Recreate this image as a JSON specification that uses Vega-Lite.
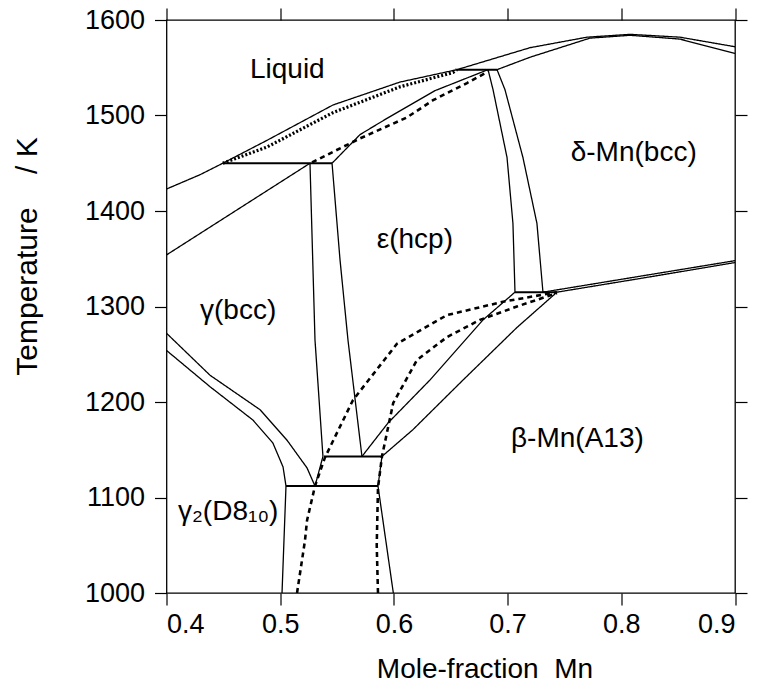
{
  "$schema": "https://vega.github.io/schema/vega-lite/v6.json",
  "width": 568.5,
  "height": 573,
  "autosize": {"type": "none"},
  "padding": {"left": 166.5, "top": 20, "right": 22, "bottom": 99},
  "background": "white",
  "config": {
    "font": "Liberation Sans",
    "view": {"stroke": "black", "strokeWidth": 1.3},
    "axis": {"grid": false, "domainColor": "black", "tickColor": "black", "labelColor": "black", "titleColor": "black", "tickSize": 12, "tickWidth": 1.2, "domainWidth": 1.3, "labelFontSize": 27, "titleFontSize": 28, "titleFontWeight": "normal", "labelFont": "Liberation Sans", "titleFont": "Liberation Sans"}
  },
  "datasets": {
    "lines": [
      {"s":1,"k":"solid","o":0,"x":0.4,"t":1423},{"s":1,"k":"solid","o":1,"x":0.4295,"t":1438},{"s":1,"k":"solid","o":2,"x":0.4495,"t":1450},{"s":1,"k":"solid","o":3,"x":0.4884,"t":1474},{"s":1,"k":"solid","o":4,"x":0.5464,"t":1511},{"s":1,"k":"solid","o":5,"x":0.6053,"t":1535},{"s":1,"k":"solid","o":6,"x":0.6555,"t":1548},{"s":1,"k":"solid","o":7,"x":0.7197,"t":1571},{"s":1,"k":"solid","o":8,"x":0.7698,"t":1582},{"s":1,"k":"solid","o":9,"x":0.8077,"t":1585},{"s":1,"k":"solid","o":10,"x":0.8516,"t":1582},{"s":1,"k":"solid","o":11,"x":0.9,"t":1572},
      {"s":2,"k":"solid","o":0,"x":0.4,"t":1354},{"s":2,"k":"solid","o":1,"x":0.5262,"t":1450},
      {"s":3,"k":"thick","o":0,"x":0.45,"t":1450},{"s":3,"k":"thick","o":1,"x":0.5456,"t":1450},
      {"s":4,"k":"solid","o":0,"x":0.5262,"t":1450},{"s":4,"k":"solid","o":1,"x":0.5306,"t":1265},{"s":4,"k":"solid","o":2,"x":0.5376,"t":1143},{"s":4,"k":"solid","o":3,"x":0.5306,"t":1112},
      {"s":5,"k":"solid","o":0,"x":0.5456,"t":1450},{"s":5,"k":"solid","o":1,"x":0.5526,"t":1349},{"s":5,"k":"solid","o":2,"x":0.5596,"t":1265},{"s":5,"k":"solid","o":3,"x":0.5719,"t":1143},
      {"s":6,"k":"thick","o":0,"x":0.5385,"t":1143},{"s":6,"k":"thick","o":1,"x":0.5895,"t":1143},
      {"s":7,"k":"solid","o":0,"x":0.5719,"t":1143},{"s":7,"k":"solid","o":1,"x":0.5948,"t":1178},{"s":7,"k":"solid","o":2,"x":0.6317,"t":1223},{"s":7,"k":"solid","o":3,"x":0.6784,"t":1286},{"s":7,"k":"solid","o":4,"x":0.7065,"t":1315},
      {"s":8,"k":"solid","o":0,"x":0.5895,"t":1143},{"s":8,"k":"solid","o":1,"x":0.6167,"t":1171},{"s":8,"k":"solid","o":2,"x":0.6608,"t":1223},{"s":8,"k":"solid","o":3,"x":0.7082,"t":1278},{"s":8,"k":"solid","o":4,"x":0.7434,"t":1315},
      {"s":9,"k":"thick","o":0,"x":0.7065,"t":1315},{"s":9,"k":"thick","o":1,"x":0.7434,"t":1315},
      {"s":10,"k":"solid","o":0,"x":0.7065,"t":1315},{"s":10,"k":"solid","o":1,"x":0.7047,"t":1387},{"s":10,"k":"solid","o":2,"x":0.6995,"t":1456},{"s":10,"k":"solid","o":3,"x":0.6872,"t":1527},{"s":10,"k":"solid","o":4,"x":0.6828,"t":1548},
      {"s":11,"k":"solid","o":0,"x":0.7311,"t":1315},{"s":11,"k":"solid","o":1,"x":0.7258,"t":1387},{"s":11,"k":"solid","o":2,"x":0.7135,"t":1456},{"s":11,"k":"solid","o":3,"x":0.6977,"t":1527},{"s":11,"k":"solid","o":4,"x":0.6907,"t":1548},
      {"s":12,"k":"thick","o":0,"x":0.6555,"t":1548},{"s":12,"k":"thick","o":1,"x":0.6907,"t":1548},
      {"s":13,"k":"solid","o":0,"x":0.5456,"t":1450},{"s":13,"k":"solid","o":1,"x":0.5702,"t":1480},{"s":13,"k":"solid","o":2,"x":0.5939,"t":1497},{"s":13,"k":"solid","o":3,"x":0.6361,"t":1526},{"s":13,"k":"solid","o":4,"x":0.6828,"t":1548},
      {"s":14,"k":"solid","o":0,"x":0.6907,"t":1548},{"s":14,"k":"solid","o":1,"x":0.7197,"t":1561},{"s":14,"k":"solid","o":2,"x":0.7724,"t":1581},{"s":14,"k":"solid","o":3,"x":0.8077,"t":1584},{"s":14,"k":"solid","o":4,"x":0.8516,"t":1580},{"s":14,"k":"solid","o":5,"x":0.9,"t":1565},
      {"s":15,"k":"dot","o":0,"x":0.4495,"t":1450},{"s":15,"k":"dot","o":1,"x":0.4884,"t":1467},{"s":15,"k":"dot","o":2,"x":0.5464,"t":1503},{"s":15,"k":"dot","o":3,"x":0.6053,"t":1530},{"s":15,"k":"dot","o":4,"x":0.6519,"t":1545},{"s":15,"k":"dot","o":5,"x":0.6555,"t":1548},
      {"s":16,"k":"dash","o":0,"x":0.528,"t":1451},{"s":16,"k":"dash","o":1,"x":0.5702,"t":1476},{"s":16,"k":"dash","o":2,"x":0.6115,"t":1498},{"s":16,"k":"dash","o":3,"x":0.6344,"t":1516},{"s":16,"k":"dash","o":4,"x":0.6643,"t":1534},{"s":16,"k":"dash","o":5,"x":0.6828,"t":1546},
      {"s":17,"k":"dash","o":0,"x":0.5148,"t":1000},{"s":17,"k":"dash","o":1,"x":0.5218,"t":1055},{"s":17,"k":"dash","o":2,"x":0.5236,"t":1076},{"s":17,"k":"dash","o":3,"x":0.5306,"t":1112},{"s":17,"k":"dash","o":4,"x":0.5394,"t":1142},{"s":17,"k":"dash","o":5,"x":0.564,"t":1202},{"s":17,"k":"dash","o":6,"x":0.6027,"t":1261},{"s":17,"k":"dash","o":7,"x":0.6467,"t":1291},{"s":17,"k":"dash","o":8,"x":0.696,"t":1305},{"s":17,"k":"dash","o":9,"x":0.7434,"t":1315},
      {"s":18,"k":"dash","o":0,"x":0.586,"t":1000},{"s":18,"k":"dash","o":1,"x":0.5849,"t":1050},{"s":18,"k":"dash","o":2,"x":0.586,"t":1110},{"s":18,"k":"dash","o":3,"x":0.5895,"t":1143},{"s":18,"k":"dash","o":4,"x":0.5994,"t":1199},{"s":18,"k":"dash","o":5,"x":0.6203,"t":1244},{"s":18,"k":"dash","o":6,"x":0.6467,"t":1268},{"s":18,"k":"dash","o":7,"x":0.6757,"t":1286},{"s":18,"k":"dash","o":8,"x":0.7082,"t":1300},{"s":18,"k":"dash","o":9,"x":0.7434,"t":1314},
      {"s":19,"k":"thick","o":0,"x":0.5051,"t":1112},{"s":19,"k":"thick","o":1,"x":0.586,"t":1112},
      {"s":20,"k":"solid","o":0,"x":0.5051,"t":1112},{"s":20,"k":"solid","o":1,"x":0.5016,"t":1000},
      {"s":21,"k":"solid","o":0,"x":0.586,"t":1112},{"s":21,"k":"solid","o":1,"x":0.5995,"t":1000},
      {"s":22,"k":"solid","o":0,"x":0.5895,"t":1143},{"s":22,"k":"solid","o":1,"x":0.586,"t":1112},
      {"s":23,"k":"solid","o":0,"x":0.4,"t":1272},{"s":23,"k":"solid","o":1,"x":0.4383,"t":1228},{"s":23,"k":"solid","o":2,"x":0.4822,"t":1192},{"s":23,"k":"solid","o":3,"x":0.506,"t":1160},{"s":23,"k":"solid","o":4,"x":0.5236,"t":1131},{"s":23,"k":"solid","o":5,"x":0.5306,"t":1112},
      {"s":24,"k":"solid","o":0,"x":0.4,"t":1254},{"s":24,"k":"solid","o":1,"x":0.4383,"t":1216},{"s":24,"k":"solid","o":2,"x":0.4761,"t":1181},{"s":24,"k":"solid","o":3,"x":0.4936,"t":1157},{"s":24,"k":"solid","o":4,"x":0.5025,"t":1132},{"s":24,"k":"solid","o":5,"x":0.5051,"t":1112},
      {"s":25,"k":"solid","o":0,"x":0.7311,"t":1315},{"s":25,"k":"solid","o":1,"x":0.9,"t":1348},
      {"s":26,"k":"solid","o":0,"x":0.7434,"t":1315},{"s":26,"k":"solid","o":1,"x":0.82,"t":1330},{"s":26,"k":"solid","o":2,"x":0.9,"t":1346}
    ],
    "labels": [
      {"label":"Liquid","x":0.4734,"t":1539},
      {"label":"δ-Mn(bcc)","x":0.7555,"t":1452},
      {"label":"ε(hcp)","x":0.5849,"t":1361},
      {"label":"γ(bcc)","x":0.4295,"t":1287},
      {"label":"β-Mn(A13)","x":0.703,"t":1153},
      {"label":"γ₂(D8₁₀)","x":0.4101,"t":1076}
    ]
  },
  "layer": [
    {
      "data": {"name": "lines"},
      "mark": {"type": "line", "color": "black", "clip": true, "strokeCap": "butt"},
      "encoding": {
        "x": {"field": "x", "type": "quantitative", "scale": {"domain": [0.4, 0.9], "nice": false, "zero": false},
          "axis": {"orient": "bottom", "values": [0.4, 0.5, 0.6, 0.7, 0.8, 0.9], "format": ".1f", "title": "Mole-fraction\u00a0\u00a0Mn", "labelPadding": 6, "titleX": 318, "titleY": 84, "titleBaseline": "alphabetic", "titleAlign": "center", "domain": false}},
        "y": {"field": "t", "type": "quantitative", "scale": {"domain": [1000, 1600], "nice": false, "zero": false},
          "axis": {"orient": "left", "values": [1000, 1100, 1200, 1300, 1400, 1500, 1600], "format": "d", "title": "Temperature\u00a0\u00a0\u00a0\u00a0/\u00a0K", "titleFontSize": 30, "labelPadding": 10, "titleX": -130, "titleY": 236, "titleAngle": -90, "titleBaseline": "alphabetic", "titleAlign": "center", "domain": false}},
        "detail": {"field": "s", "type": "nominal"},
        "order": {"field": "o", "type": "quantitative"},
        "strokeDash": {"field": "k", "type": "nominal", "scale": {"domain": ["solid", "thick", "dash", "dot"], "range": [[1, 0], [1, 0], [5, 4], [2, 2]]}, "legend": null},
        "strokeWidth": {"field": "k", "type": "nominal", "scale": {"domain": ["solid", "thick", "dash", "dot"], "range": [1.3, 3.2, 1.0, 0.9]}, "legend": null}
      }
    },
    {
      "data": {"name": "labels"},
      "mark": {"type": "text", "align": "left", "baseline": "alphabetic", "fontSize": 28, "color": "black", "font": "Liberation Sans"},
      "encoding": {
        "x": {"field": "x", "type": "quantitative", "axis": {"orient": "top", "values": [0.4, 0.5, 0.6, 0.7, 0.8, 0.9], "labels": false, "title": null, "domain": false}},
        "y": {"field": "t", "type": "quantitative", "axis": {"orient": "right", "values": [1000, 1100, 1200, 1300, 1400, 1500, 1600], "labels": false, "title": null, "domain": false}},
        "text": {"field": "label", "type": "nominal"}
      }
    }
  ]
}
